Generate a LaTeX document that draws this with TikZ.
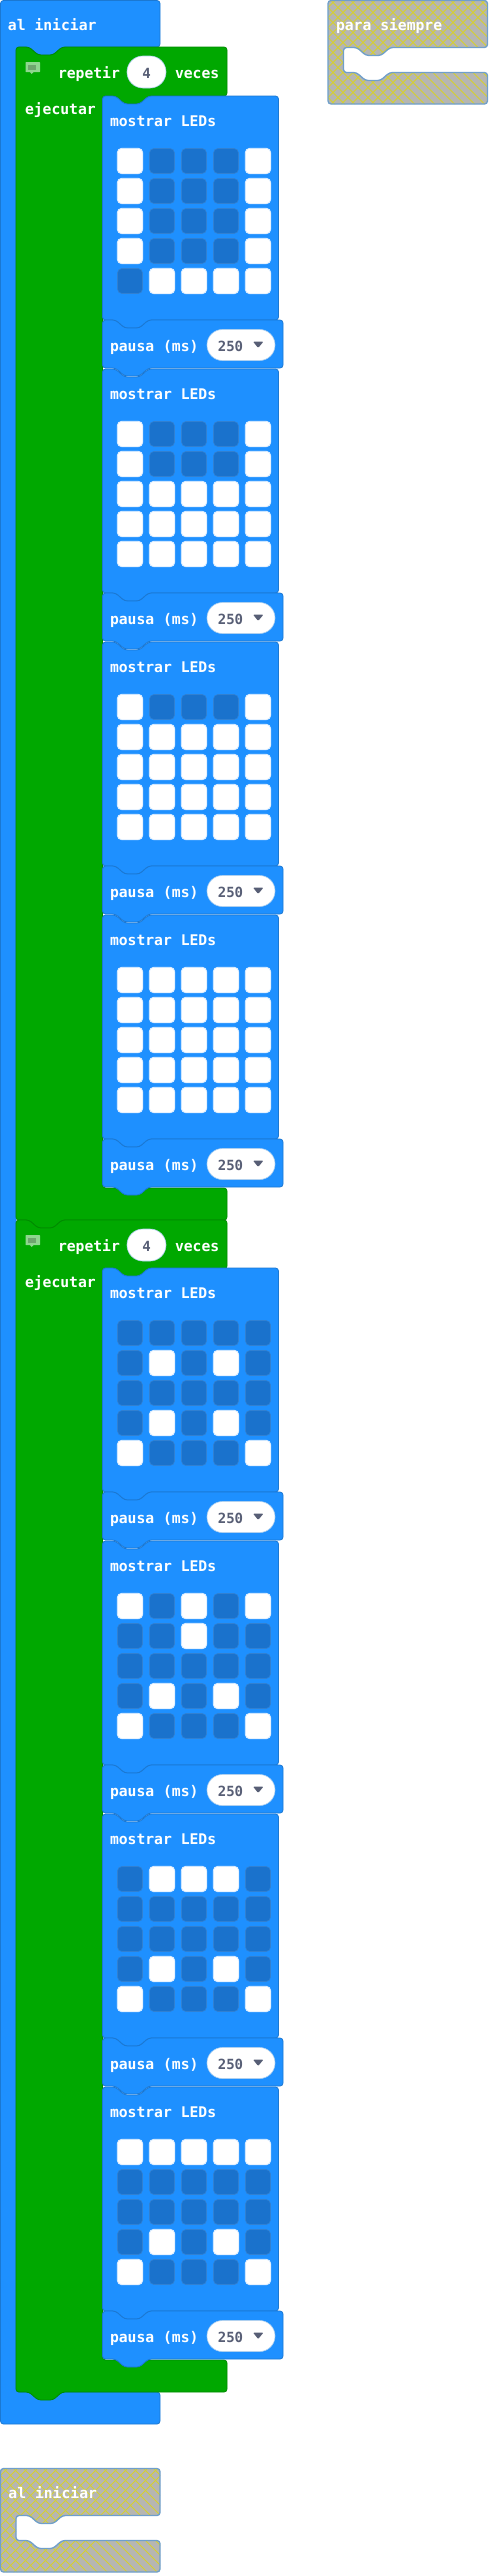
\documentclass[tikz,border=0pt]{standalone}
\usepackage{fontspec}
\setmonofont{DejaVu Sans Mono}
\definecolor{mbblue}{HTML}{1E90FF}
\definecolor{mbblueedge}{HTML}{1B78D2}
\definecolor{mbledoff}{HTML}{1A72CC}
\definecolor{mbgreen}{HTML}{00A800}
\definecolor{mbgreenedge}{HTML}{008A00}
\definecolor{mbgrey}{HTML}{B6B6B2}
\definecolor{mbhatch}{HTML}{D6D02E}
\definecolor{mboffedge}{HTML}{6F9FCB}
\definecolor{mbink}{HTML}{575E75}
\definecolor{mbnote}{HTML}{8FD68F}
\definecolor{mbnoteinner}{HTML}{6EA56E}
\tikzset{
  bluebody/.style={fill=mbblue, draw=mbblueedge, line width=.8, rounded corners=3},
  greenbody/.style={fill=mbgreen, draw=mbgreenedge, line width=.8, rounded corners=3},
  txt/.style={white, anchor=base west, inner sep=0, outer sep=0, font=\ttfamily\bfseries\fontsize{14.7}{16}\selectfont},
  inktxt/.style={mbink, anchor=base, inner sep=0, outer sep=0, font=\ttfamily\bfseries\fontsize{14}{16}\selectfont},
  pill/.style={fill=white, draw=mbblueedge!35, line width=.6, inner sep=0, outer sep=0, minimum height=31, rounded corners=15.4},
  led0/.style={fill=mbledoff, draw=mbledoff!90!white, line width=.6, inner sep=0, outer sep=0, minimum size=25, rounded corners=4.5},
  led1/.style={fill=white, draw=white!85!mbblue, line width=.8, inner sep=0, outer sep=0, minimum size=25.5, rounded corners=4.5},
}
\newcommand{\tabgoright}{-- ++(13,0) -- ++(9,8) -- ++(15,0) -- ++(9,-8)}
\newcommand{\tabgoleft}{-- ++(-9,8) -- ++(-15,0) -- ++(-9,-8)}
% mostrar block and its pause: name, top, 25 leds
\newcommand{\ledsblock}[3]{
  \draw[bluebody] (102.5,#2) \tabgoright -- (278.5,#2) -- (278.5,#2+224) -- (148.5,#2+224) \tabgoleft -- (102.5,#2+224) -- cycle;
  \node[txt] (#1title) at (110,#2+30) {mostrar LEDs};
  \foreach \v [count=\n from 0] in {#3} {
    \pgfmathtruncatemacro\rw{\n/5}
    \pgfmathtruncatemacro\cl{mod(\n,5)}
    \node[led\v] (#1-\rw-\cl) at ({130+32*\cl},{#2+65+30*\rw}) {};
  }
  \draw[bluebody] (102.5,#2+224) \tabgoright -- (283,#2+224) -- (283,#2+272) -- (148.5,#2+272) \tabgoleft -- (102.5,#2+272) -- cycle;
  \node[txt] (#1pausa) at (110,#2+255) {pausa (ms)};
  \node[pill, minimum width=68] (#1pill) at (241,#2+249) {};
  \node[inktxt] (#1ms) at (230.5,#2+255) {250};
  \fill[mbink, rounded corners=1] (253,#2+245.5) -- (263.5,#2+245.5) -- (258.2,#2+252) -- cycle;
}
% green loop: name, top, bottom
\newcommand{\loopblock}[3]{
  \draw[greenbody] (16,#2) \tabgoright -- (227,#2) -- (227,#2+49) -- (148.5,#2+49) \tabgoleft -- (102.5,#2+49) -- (102.5,#3-32) -- (227,#3-32) -- (227,#3) -- (62,#3) \tabgoleft -- (16,#3) -- cycle;
  \fill[mbnote, rounded corners=.5] (25.5,#2+15) rectangle (40,#2+25);
  \fill[mbnote] (30,#2+25) -- (33.5,#2+25) -- (31.7,#2+27) -- cycle;
  \fill[mbnoteinner] (27.5,#2+17.5) rectangle (36,#2+23);
  \node[txt] (#1repetir) at (58,#2+31) {repetir};
  \node[pill, minimum width=39, minimum height=32, rounded corners=15.9] (#1pill) at (146.5,#2+25) {};
  \node[inktxt] (#1four) at (146.5,#2+31) {4};
  \node[txt] (#1veces) at (175,#2+31) {veces};
  \node[txt] (#1ejecutar) at (25,#2+67) {ejecutar};
}
% greyed out block: name, left, top, text
\newcommand{\offpath}{(0,0) -- (159.5,0) -- (159.5,47) -- (62,47) \tabgoleft -- (15.5,47) -- (15.5,72) \tabgoright -- (159.5,72) -- (159.5,103.5) -- (0,103.5) -- cycle}
\newcommand{\offblock}[4]{
  \begin{scope}[shift={(#2,#3)}]
    \fill[mbgrey, rounded corners=3] \offpath;
    \begin{scope}
      \clip[rounded corners=3] \offpath;
      \foreach \k in {-12,...,17} {
        \draw[mbhatch, line width=1] (\k*10,-3) -- ++(112,112);
        \draw[mbhatch, line width=1] (\k*10,-3) -- ++(-112,112);
      }
    \end{scope}
    \draw[mboffedge, line width=1.3, rounded corners=3] \offpath;
    \node[txt] (#1title) at (8,30) {#4};
  \end{scope}
}

\begin{document}
\begin{tikzpicture}[x=1,y=-1]
\useasboundingbox (0,0) rectangle (488,2573);
\draw[bluebody] (.5,.5) -- (160,.5) -- (160,47) -- (62,47) \tabgoleft -- (16,47) -- (16,2392) -- (160,2392) -- (160,2424) -- (.5,2424) -- cycle;
\node[txt] (start) at (8,30) {al iniciar};

\loopblock{a}{47}{1220}
\ledsblock{a1}{96}{1,0,0,0,1, 1,0,0,0,1, 1,0,0,0,1, 1,0,0,0,1, 0,1,1,1,1}
\ledsblock{a2}{369}{1,0,0,0,1, 1,0,0,0,1, 1,1,1,1,1, 1,1,1,1,1, 1,1,1,1,1}
\ledsblock{a3}{642}{1,0,0,0,1, 1,1,1,1,1, 1,1,1,1,1, 1,1,1,1,1, 1,1,1,1,1}
\ledsblock{a4}{915}{1,1,1,1,1, 1,1,1,1,1, 1,1,1,1,1, 1,1,1,1,1, 1,1,1,1,1}

\loopblock{b}{1220}{2392}
\ledsblock{b1}{1268}{0,0,0,0,0, 0,1,0,1,0, 0,0,0,0,0, 0,1,0,1,0, 1,0,0,0,1}
\ledsblock{b2}{1541}{1,0,1,0,1, 0,0,1,0,0, 0,0,0,0,0, 0,1,0,1,0, 1,0,0,0,1}
\ledsblock{b3}{1814}{0,1,1,1,0, 0,0,0,0,0, 0,0,0,0,0, 0,1,0,1,0, 1,0,0,0,1}
\ledsblock{b4}{2087}{1,1,1,1,1, 0,0,0,0,0, 0,0,0,0,0, 0,1,0,1,0, 1,0,0,0,1}

\offblock{forever}{328}{.5}{para siempre}
\offblock{second}{.5}{2468.5}{al iniciar}
\end{tikzpicture}
\end{document}
